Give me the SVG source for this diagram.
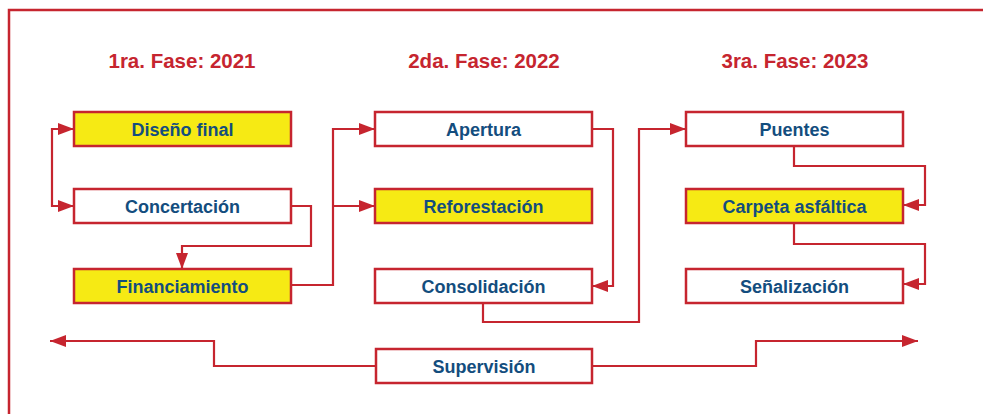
<svg xmlns="http://www.w3.org/2000/svg" width="983" height="414" viewBox="0 0 983 414">
<style>
.box{stroke:#c6252f;stroke-width:2.5;fill:#ffffff}
.hl{fill:#f6ea14}
.lbl{font-family:"Liberation Sans",Arial,sans-serif;font-weight:bold;font-size:18px;fill:#134d7e;text-anchor:middle}
.ttl{font-family:"Liberation Sans",Arial,sans-serif;font-weight:bold;font-size:20.5px;fill:#c6252f;text-anchor:middle}
.con{fill:none;stroke:#c6252f;stroke-width:2.2}
</style>
<defs>
<marker id="ah" viewBox="0 0 16 12" refX="16" refY="6" markerWidth="16" markerHeight="12" markerUnits="userSpaceOnUse" orient="auto-start-reverse">
<path d="M0,0 L16,6 L0,12 z" fill="#c6252f"/>
</marker>
</defs>
<rect x="0" y="0" width="983" height="414" fill="#ffffff"/>
<rect x="9" y="10" width="1000" height="430" fill="none" stroke="#c6252f" stroke-width="2.5"/>
<g id="titles">
<text class="ttl" x="182" y="68">1ra. Fase: 2021</text>
<text class="ttl" x="484" y="68">2da. Fase: 2022</text>
<text class="ttl" x="795" y="68">3ra. Fase: 2023</text>
</g>
<g id="connectors">
<path class="con" d="M74,129 H52 V206 H74" marker-start="url(#ah)" marker-end="url(#ah)"/>
<path class="con" d="M291,206 H311 V246 H182 V269" marker-end="url(#ah)"/>
<path class="con" d="M291,285 H333 V129 H375" marker-end="url(#ah)"/>
<path class="con" d="M333,206 H375" marker-end="url(#ah)"/>
<path class="con" d="M592,129 H613 V286 H592" marker-end="url(#ah)"/>
<path class="con" d="M483,303 V322 H639 V129 H686" marker-end="url(#ah)"/>
<path class="con" d="M794,146 V166 H925 V205 H903" marker-end="url(#ah)"/>
<path class="con" d="M794,224 V244 H925 V284 H903" marker-end="url(#ah)"/>
<path class="con" d="M376,366 H214 V341 H50" marker-end="url(#ah)"/>
<path class="con" d="M592,366 H756 V341 H918" marker-end="url(#ah)"/>
</g>
<g id="n-diseno"><rect class="box hl" x="74" y="112" width="217" height="34"/><text class="lbl" x="182.5" y="135.5">Diseño final</text></g>
<g id="n-concertacion"><rect class="box" x="74" y="189" width="217" height="34"/><text class="lbl" x="182.5" y="212.5">Concertación</text></g>
<g id="n-financiamiento"><rect class="box hl" x="74" y="269" width="217" height="34"/><text class="lbl" x="182.5" y="292.5">Financiamiento</text></g>
<g id="n-apertura"><rect class="box" x="375" y="112" width="217" height="34"/><text class="lbl" x="483.5" y="135.5">Apertura</text></g>
<g id="n-reforestacion"><rect class="box hl" x="375" y="189" width="217" height="34"/><text class="lbl" x="483.5" y="212.5">Reforestación</text></g>
<g id="n-consolidacion"><rect class="box" x="375" y="269" width="217" height="34"/><text class="lbl" x="483.5" y="292.5">Consolidación</text></g>
<g id="n-puentes"><rect class="box" x="686" y="112" width="217" height="34"/><text class="lbl" x="794.5" y="135.5">Puentes</text></g>
<g id="n-carpeta"><rect class="box hl" x="686" y="189" width="217" height="34"/><text class="lbl" x="794.5" y="212.5">Carpeta asfáltica</text></g>
<g id="n-senalizacion"><rect class="box" x="686" y="269" width="217" height="34"/><text class="lbl" x="794.5" y="292.5">Señalización</text></g>
<g id="n-supervision"><rect class="box" x="376" y="349" width="216" height="34"/><text class="lbl" x="484" y="372.5">Supervisión</text></g>
</svg>
